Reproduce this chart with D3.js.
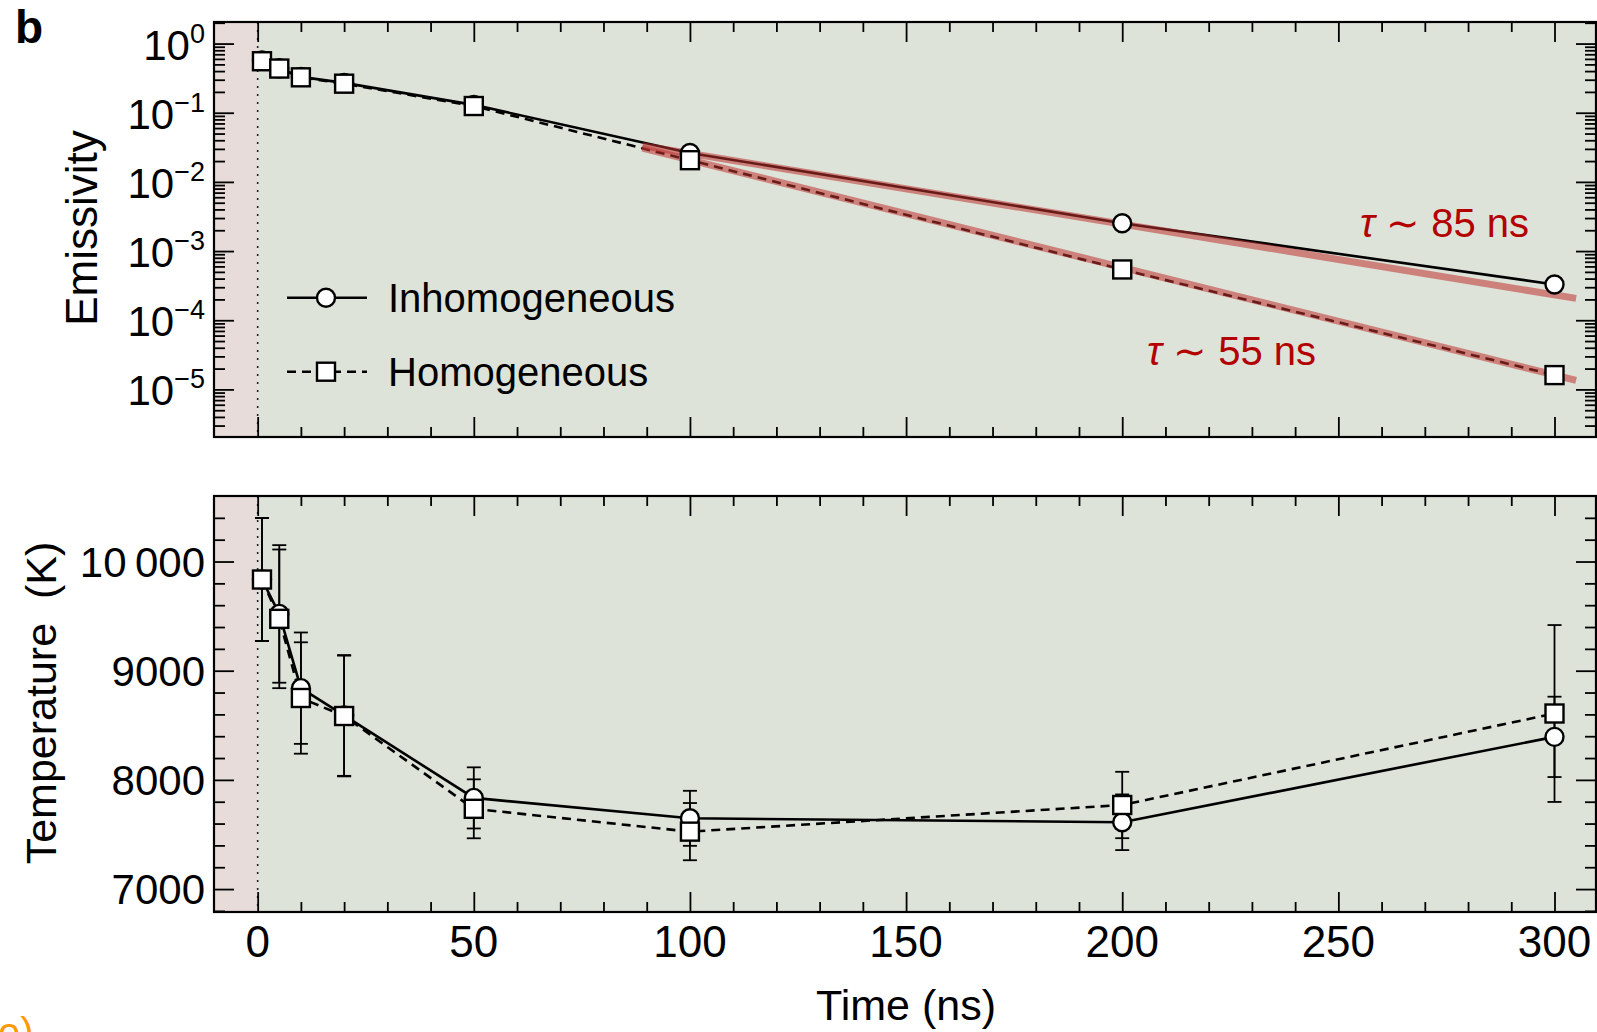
<!DOCTYPE html>
<html><head><meta charset="utf-8">
<script src="https://cdn.jsdelivr.net/npm/d3@7"></script>
<style>
html,body{margin:0;padding:0;background:#fff;overflow:hidden}
svg{display:block}
text{font-family:"Liberation Sans",Arial,Helvetica,sans-serif}
</style></head><body>
<svg id="chart" width="1597" height="1032"></svg>
<script>
// ---------------- data ----------------
const times = [1, 5, 10, 20, 50, 100, 200, 300];
const emisInhom = [0.57, 0.44, 0.33, 0.27, 0.13, 0.0262, 0.00253, 0.000329];
const emisHom = [0.555, 0.435, 0.325, 0.263, 0.125, 0.0206, 0.000542, 0.0000161];
const tempInhom = [9835, 9520, 8840, 8590, 7835, 7648, 7612, 8394];
const tempInhomErr = [563, 630, 510, 553, 280, 252, 255, 368];
const tempHom = [9835, 9475, 8750, 8585, 7735, 7526, 7770, 8608];
const tempHomErr = [563, 635, 510, 553, 270, 262, 304, 810];
const fitTime = [89, 305];
const fit85 = [0.0334, 0.000207];
const fit55 = [0.0307, 0.0000135];
const fitLabels = ["85 ns", "55 ns"];
const seriesNames = ["Inhomogeneous", "Homogeneous"];
const xTickValues = [0, 50, 100, 150, 200, 250, 300];
const emisTickExponents = [0, -1, -2, -3, -4, -5];
const tempTickValues = [7000, 8000, 9000, 10000];
const tempTickLabels = ["7000", "8000", "9000", "10\u2009000"];

// ---------------- layout ----------------
const svg = d3.select("#chart");
const L = 214, R = 1596;
const top1 = 22, bot1 = 437, top2 = 496, bot2 = 912;
const bgGreen = "#dde3d9", bgPink = "#e8dcdb";
const fitColor = "rgb(192,50,45)";

const x = d3.scaleLinear().domain([-10.1, 309.6]).range([L, R]);
const yE = d3.scaleLog().domain([2.05e-6, 2.05]).range([bot1, top1]);
const yT = d3.scaleLinear().domain([6790, 10600]).range([bot2, top2]);

const xMinor = d3.range(10, 310, 10).filter(v => v % 50 !== 0);
const eMajor = emisTickExponents.map(e => Math.pow(10, e));
const eMinor = [];
for (let d = -6; d <= 0; d++) for (let k = 2; k <= 9; k++) {
  const v = k * Math.pow(10, d);
  if (v > 2.05e-6 && v < 2.05) eMinor.push(v);
}
const tMinor = d3.range(6800, 10600, 200).filter(v => v % 1000 !== 0);

function panel(yScale, y0, y1) {
  const g = svg.append("g");
  g.append("rect").attr("x", L).attr("y", y0).attr("width", R - L).attr("height", y1 - y0).attr("fill", bgGreen);
  g.append("rect").attr("x", L).attr("y", y0).attr("width", x(0) - L).attr("height", y1 - y0).attr("fill", bgPink);
  g.append("line").attr("x1", x(0)).attr("x2", x(0)).attr("y1", y0).attr("y2", y1)
    .attr("stroke", "#222").attr("stroke-width", 1.6).attr("stroke-dasharray", "2,6");
  return g;
}
function ticks(yScale, y0, y1, yMajor, yMinor) {
  const g = svg.append("g");
  const style = sel => { sel.select(".domain").remove(); sel.selectAll("line").attr("stroke", "#000").attr("stroke-width", 1.8); sel.selectAll("text").remove(); };
  g.append("g").attr("transform", `translate(0,${y1})`).call(d3.axisBottom(x).tickValues(xTickValues).tickSize(-20).tickFormat("")).call(style);
  g.append("g").attr("transform", `translate(0,${y1})`).call(d3.axisBottom(x).tickValues(xMinor).tickSize(-10).tickFormat("")).call(style);
  g.append("g").attr("transform", `translate(0,${y0})`).call(d3.axisTop(x).tickValues(xTickValues).tickSize(-20).tickFormat("")).call(style);
  g.append("g").attr("transform", `translate(0,${y0})`).call(d3.axisTop(x).tickValues(xMinor).tickSize(-10).tickFormat("")).call(style);
  g.append("g").attr("transform", `translate(${L},0)`).call(d3.axisLeft(yScale).tickValues(yMajor).tickSize(-20).tickFormat("")).call(style);
  g.append("g").attr("transform", `translate(${L},0)`).call(d3.axisLeft(yScale).tickValues(yMinor).tickSize(-11).tickFormat("")).call(style);
  g.append("g").attr("transform", `translate(${R},0)`).call(d3.axisRight(yScale).tickValues(yMajor).tickSize(-20).tickFormat("")).call(style);
  g.append("g").attr("transform", `translate(${R},0)`).call(d3.axisRight(yScale).tickValues(yMinor).tickSize(-11).tickFormat("")).call(style);
  g.append("rect").attr("x", L).attr("y", y0).attr("width", R - L).attr("height", y1 - y0)
    .attr("fill", "none").attr("stroke", "#000").attr("stroke-width", 2.2);
}

function drawCircle(g, cx, cy) {
  g.append("circle").attr("cx", cx).attr("cy", cy).attr("r", 9)
    .attr("fill", "#fff").attr("stroke", "#000").attr("stroke-width", 2.4);
}
function drawSquare(g, cx, cy) {
  g.append("rect").attr("x", cx - 9).attr("y", cy - 9).attr("width", 18).attr("height", 18)
    .attr("fill", "#fff").attr("stroke", "#000").attr("stroke-width", 2.4);
}

// ---------------- top panel ----------------
panel(yE, top1, bot1);
const gTop = svg.append("g");
const lineE = d3.line().x((d, i) => x(times[i])).y(d => yE(d));
gTop.append("path").attr("d", lineE(emisInhom)).attr("fill", "none").attr("stroke", "#000").attr("stroke-width", 2.6);
gTop.append("path").attr("d", lineE(emisHom)).attr("fill", "none").attr("stroke", "#000").attr("stroke-width", 2.6).attr("stroke-dasharray", "9,6");
const lineFit = d3.line().x((d, i) => x(fitTime[i])).y(d => yE(d));
[fit85, fit55].forEach(f => {
  gTop.append("path").attr("d", lineFit(f)).attr("fill", "none").attr("stroke", fitColor)
    .attr("stroke-opacity", 0.55).attr("stroke-width", 7);
});
emisInhom.forEach((v, i) => drawCircle(gTop, x(times[i]), yE(v)));
emisHom.forEach((v, i) => drawSquare(gTop, x(times[i]), yE(v)));

// legend
const lg = svg.append("g");
const legY = [297.7, 371.7];
lg.append("line").attr("x1", 287).attr("x2", 367).attr("y1", legY[0]).attr("y2", legY[0]).attr("stroke", "#000").attr("stroke-width", 2.6);
drawCircle(lg, 326, legY[0]);
lg.append("line").attr("x1", 287).attr("x2", 367).attr("y1", legY[1]).attr("y2", legY[1]).attr("stroke", "#000").attr("stroke-width", 2.6).attr("stroke-dasharray", "9,6");
drawSquare(lg, 326, legY[1]);
seriesNames.forEach((n, i) => {
  lg.append("text").attr("x", 388).attr("y", legY[i] + 14).attr("font-size", 40).attr("fill", "#000").text(n);
});

// fit annotations
const annPos = [[1360, 237], [1147, 365]];
fitLabels.forEach((t, i) => {
  const tx = svg.append("text").attr("x", annPos[i][0]).attr("y", annPos[i][1]).attr("font-size", 40).attr("fill", "#b30000");
  tx.append("tspan").attr("font-style", "italic").text("\u03c4");
  tx.append("tspan").text("\u00a0\u223c\u00a0" + t);
});

ticks(yE, top1, bot1, eMajor, eMinor);

// log labels
emisTickExponents.forEach(e => {
  const t = svg.append("text").attr("x", 205).attr("y", yE(Math.pow(10, e)) + 16).attr("text-anchor", "end").attr("font-size", 42).attr("fill", "#000");
  t.append("tspan").text("10");
  t.append("tspan").attr("font-size", 27).attr("dy", -17).text(e === 0 ? "0" : "\u2212" + Math.abs(e));
});

// ---------------- bottom panel ----------------
panel(yT, top2, bot2);
const gBot = svg.append("g");
const lineT = d3.line().x((d, i) => x(times[i])).y(d => yT(d));
gBot.append("path").attr("d", lineT(tempInhom)).attr("fill", "none").attr("stroke", "#000").attr("stroke-width", 2.6);
gBot.append("path").attr("d", lineT(tempHom)).attr("fill", "none").attr("stroke", "#000").attr("stroke-width", 2.6).attr("stroke-dasharray", "9,6");
function errBars(vals, errs) {
  vals.forEach((v, i) => {
    const cx = x(times[i]), ya = yT(v + errs[i]), yb = yT(v - errs[i]);
    gBot.append("line").attr("x1", cx).attr("x2", cx).attr("y1", ya).attr("y2", yb).attr("stroke", "#000").attr("stroke-width", 1.8);
    [ya, yb].forEach(yy => gBot.append("line").attr("x1", cx - 7).attr("x2", cx + 7).attr("y1", yy).attr("y2", yy).attr("stroke", "#000").attr("stroke-width", 1.8));
  });
}
errBars(tempInhom, tempInhomErr);
errBars(tempHom, tempHomErr);
tempInhom.forEach((v, i) => drawCircle(gBot, x(times[i]), yT(v)));
tempHom.forEach((v, i) => drawSquare(gBot, x(times[i]), yT(v)));

ticks(yT, top2, bot2, tempTickValues, tMinor);

tempTickValues.forEach((v, i) => {
  svg.append("text").attr("x", 205).attr("y", yT(v) + 15).attr("text-anchor", "end").attr("font-size", 42).attr("fill", "#000").text(tempTickLabels[i]);
});
xTickValues.forEach(v => {
  svg.append("text").attr("x", x(v)).attr("y", 957).attr("text-anchor", "middle").attr("font-size", 44).attr("fill", "#000").text(String(v));
});

// titles
svg.append("text").attr("x", 906).attr("y", 1020).attr("text-anchor", "middle").attr("font-size", 43).text("Time (ns)");
svg.append("text").attr("transform", "translate(97,228) rotate(-90)").attr("text-anchor", "middle").attr("font-size", 44).text("Emissivity");
svg.append("text").attr("transform", "translate(56,703) rotate(-90)").attr("text-anchor", "middle").attr("font-size", 43).text("Temperature\u00a0\u00a0(K)");
svg.append("text").attr("x", 15).attr("y", 43).attr("font-size", 46).attr("font-weight", "bold").text("b");
svg.append("text").attr("x", -2).attr("y", 1046).attr("font-size", 40).attr("fill", "#f90").text("e)");
</script>
</body></html>
